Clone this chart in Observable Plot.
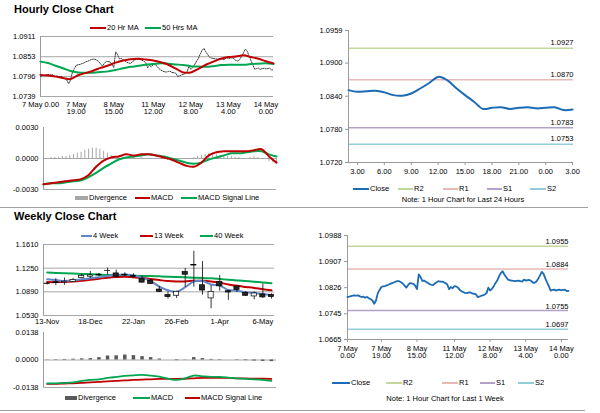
<!DOCTYPE html>
<html><head><meta charset="utf-8">
<script src="https://cdn.jsdelivr.net/npm/d3@7"></script>
<script src="https://cdn.jsdelivr.net/npm/@observablehq/plot@0.6"></script>
<style>
body{margin:0;background:#fff;}
#root{position:relative;width:600px;height:413px;font-family:"Liberation Sans",Arial,sans-serif;color:#000;overflow:hidden;background:#fff}
.title{position:absolute;font-weight:bold;font-size:11px;white-space:nowrap}
.note{position:absolute;font-size:7.5px;white-space:nowrap;transform:translateX(-50%)}
</style></head><body><div id="root"></div><script>
// ---------------- DATA ----------------
// Hourly close, 7 May 0.00 (index 0) to 14 May 4.00 (index 124)
const hourlyClose = [
 1.0797,1.0798,1.0800,1.0801,1.0802,1.0801,1.0802,1.0799,1.0797,1.0798,
 1.0795,1.0797,1.0793,1.0790,1.0786,1.0776,1.0786,1.0809,1.0819,1.0828,
 1.0830,1.0831,1.0833,1.0835,1.0838,1.0840,1.0842,1.0845,1.0846,1.0846,
 1.0843,1.0839,1.0832,1.0826,1.0834,1.0840,1.0839,1.0838,1.0832,1.0822,
 1.0867,1.0859,1.0847,1.0848,1.0844,1.0841,1.0837,1.0835,1.0834,1.0839,
 1.0843,1.0846,1.0845,1.0845,1.0843,1.0840,1.0836,1.0821,1.0828,1.0824,
 1.0831,1.0830,1.0826,1.0819,1.0815,1.0812,1.0810,1.0809,1.0811,1.0811,
 1.0808,1.0807,1.0806,1.0797,1.0798,1.0801,1.0802,1.0805,1.0809,1.0826,
 1.0817,1.0822,1.0830,1.0840,1.0848,1.0861,1.0871,1.0877,1.0867,1.0859,
 1.0851,1.0849,1.0848,1.0847,1.0846,1.0847,1.0848,1.0846,1.0845,1.0851,
 1.0848,1.0849,1.0850,1.0847,1.0842,1.0841,1.0845,1.0854,1.0864,1.0875,
 1.0869,1.0855,1.0842,1.0830,1.0817,1.0819,1.0820,1.0817,1.0819,1.0820,
 1.0818,1.0819,1.0820,1.0815,1.0816];
const last24Start = 99;           // index in hourlyClose where the 24-hour chart starts (hour -1)
const maHours = [0,4,8,12,16,20,24,28,32,36,40,44,48,52,56,60,64,68,72,76,80,84,88,92,96,100,104,108,112,116,120,124];
const hMa20 = [1.0801,1.0799,1.0796,1.0792,1.0789,1.0800,1.0806,1.0813,1.0821,1.0828,1.0836,1.0842,1.0846,1.0847,1.0845,1.0842,1.0837,1.0830,1.0819,1.0808,1.0808,1.0818,1.0830,1.0839,1.0847,1.0852,1.0854,1.0857,1.0852,1.0847,1.0840,1.0834];
const hMa50 = [1.0839,1.0835,1.0827,1.0820,1.0812,1.0808,1.0807,1.0807,1.0809,1.0811,1.0815,1.0820,1.0824,1.0827,1.0830,1.0832,1.0834,1.0833,1.0831,1.0829,1.0826,1.0825,1.0824,1.0826,1.0829,1.0830,1.0830,1.0830,1.0832,1.0833,1.0834,1.0832];
const hMacd = [-0.0025,-0.0024,-0.0023,-0.0022,-0.0021,-0.0020,-0.0016,-0.0008,-0.0002,0.0001,0.0002,0.0004,0.0003,0.0004,0.0004,0.0003,0.0001,-0.0001,-0.0004,-0.0007,-0.0008,-0.0004,0.0003,0.0006,0.0007,0.0007,0.0007,0.0007,0.0008,0.0009,0.0002,-0.0004];
const hSignal = [-0.0025,-0.0024,-0.0024,-0.0023,-0.0022,-0.0021,-0.0018,-0.0014,-0.0009,-0.0005,-0.0001,0.0001,0.0002,0.0003,0.0004,0.0003,0.0002,0.0000,-0.0002,-0.0004,-0.0005,-0.0004,-0.0001,0.0001,0.0003,0.0005,0.0005,0.0006,0.0007,0.0007,0.0004,0.0002];
const divHours = [0,2,4,6,8,10,12,14,16,18,20,22,24,26,28,30,32,34,36,38,40,42,44,46,48,50,52,54,56,58,60,62,64,66,68,70,72,74,76,78,80,82,84,86,88,90,92,94,96,98,100,102,104,106,108,110,112,114,116,118,120,122,124];
const hDiv = [0.0000,0.0000,0.0001,0.0001,0.0001,0.0002,0.0002,0.0003,0.0004,0.0005,0.0006,0.0008,0.0009,0.0010,0.0010,0.0009,0.0007,0.0005,0.0003,0.0002,0.0002,0.0001,0.0001,0.0001,0.0001,0.0000,0.0001,0.0000,0.0000,0.0000,-0.0001,-0.0001,-0.0001,-0.0002,-0.0002,-0.0002,-0.0001,-0.0001,-0.0001,0.0000,0.0001,0.0002,0.0003,0.0004,0.0005,0.0005,0.0004,0.0003,0.0003,0.0002,0.0002,0.0001,0.0001,0.0000,0.0000,0.0001,0.0002,0.0001,0.0000,-0.0001,-0.0003,-0.0004,-0.0005];
const hPriceTicks = [1.0911,1.0853,1.0796,1.0739];
const hMacdTicks = [0.0030,0.0000,-0.0030];
const hourTicks = [0,19,39,60,80,100,120];
const hourLabelsA = ["7 May 0.00","7 May\n19.00","8 May\n15.00","11 May\n12.00","12 May\n8.00","13 May\n4.00","14 May\n0.00"];
const hourLabelsF = ["7 May\n0.00","7 May\n19.00","8 May\n15.00","11 May\n12.00","12 May\n8.00","13 May\n4.00","14 May\n0.00"];
const dayTicks = [0,3,6,9,12,15,18,21,24];
const dayLabels = ["3.00","6.00","9.00","12.00","15.00","18.00","21.00","0.00","3.00"];
const dayPriceTicks = [1.0959,1.0900,1.0840,1.0780,1.0720];
const weekPriceTicksR = [1.0988,1.0907,1.0826,1.0745,1.0665];
const levelNames = ["R2","R1","S1","S2"];
const levelsDay = [1.0927,1.0870,1.0783,1.0753];
const levelsWeek = [1.0955,1.0884,1.0755,1.0697];

// Weekly candles 13-Nov .. 13-May
const wOpen  = [1.1015,1.1035,1.1030,1.1040,1.1100,1.1120,1.1140,1.1205,1.1170,1.1150,1.1130,1.1090,1.1060,1.0925,1.0840,1.0830,1.1190,1.1300,1.0990,1.0790,1.1040,1.0900,1.0970,1.0870,1.0820,1.0850,1.0840];
const wHigh  = [1.1035,1.1090,1.1100,1.1095,1.1160,1.1200,1.1170,1.1250,1.1220,1.1180,1.1165,1.1130,1.1080,1.0970,1.0890,1.0900,1.1245,1.1506,1.1350,1.0986,1.1140,1.0905,1.0990,1.0890,1.0890,1.1010,1.0860];
const wLow   = [1.0995,1.0986,1.0990,1.1040,1.1090,1.1090,1.1120,1.1140,1.1100,1.1125,1.1090,1.1020,1.1000,1.0880,1.0780,1.0790,1.0960,1.0960,1.0840,1.0632,1.0900,1.0760,1.0880,1.0820,1.0770,1.0790,1.0780];
const wClose = [1.1010,1.1022,1.1045,1.1070,1.1130,1.1140,1.1150,1.1210,1.1120,1.1140,1.1115,1.1030,1.1010,1.0890,1.0810,1.0890,1.1150,1.1290,1.0910,1.0890,1.0975,1.0880,1.0920,1.0830,1.0865,1.0805,1.0810];
const wMa4  = [1.1080,1.1069,1.1054,1.1064,1.1080,1.1095,1.1111,1.1132,1.1147,1.1152,1.1137,1.1106,1.1054,1.0970,1.0913,1.0892,1.0960,1.1048,1.1054,1.1002,1.0986,1.0918,1.0908,1.0882,1.0872,1.0856,1.0840];
const wMa13 = [1.1038,1.1038,1.1043,1.1048,1.1059,1.1074,1.1090,1.1106,1.1116,1.1121,1.1111,1.1100,1.1085,1.1069,1.1054,1.1048,1.1048,1.1059,1.1059,1.1048,1.1028,1.1002,1.0981,1.0965,1.0950,1.0929,1.0913];
const wMa40 = [1.1184,1.1178,1.1173,1.1168,1.1163,1.1158,1.1152,1.1147,1.1142,1.1142,1.1137,1.1132,1.1132,1.1126,1.1121,1.1116,1.1111,1.1106,1.1100,1.1095,1.1085,1.1074,1.1064,1.1054,1.1043,1.1033,1.1022];
const wMacd   = [-0.0117,-0.0117,-0.0115,-0.0112,-0.0105,-0.0100,-0.0097,-0.0090,-0.0085,-0.0080,-0.0077,-0.0075,-0.0078,-0.0084,-0.0094,-0.0100,-0.0092,-0.0078,-0.0082,-0.0085,-0.0085,-0.0088,-0.0092,-0.0095,-0.0097,-0.0100,-0.0105];
const wSignal = [-0.0120,-0.0120,-0.0118,-0.0117,-0.0115,-0.0112,-0.0110,-0.0107,-0.0105,-0.0102,-0.0100,-0.0098,-0.0097,-0.0095,-0.0095,-0.0095,-0.0094,-0.0092,-0.0090,-0.0090,-0.0090,-0.0090,-0.0092,-0.0092,-0.0094,-0.0094,-0.0095];
const wDiv    = [0.0001,0.0002,0.0003,0.0004,0.0006,0.0007,0.0012,0.0020,0.0021,0.0025,0.0022,0.0017,0.0012,0.0005,0.0000,-0.0003,-0.0001,0.0012,0.0007,0.0003,0.0002,0.0000,-0.0002,-0.0003,-0.0005,-0.0007,-0.0008];
const weekTicks = [0,5,10,15,20,25];
const weekLabels = ["13-Nov","18-Dec","22-Jan","26-Feb","1-Apr","6-May"];
const wPriceTicks = [1.1610,1.1250,1.0890,1.0530];
const wMacdTicks = [0.0138,0.0000,-0.0138];

// ---------------- STYLE ----------------
const RED = "#c00000", GREEN = "#00a651", BLUE = "#1b6cb5", BLUE4 = "#5f87c9";
const GRID = "#a6a6a6", AXIS = "#9a9a9a";
const LVL = {R2:"#c3d69b", R1:"#e6b9b8", S1:"#b3a2c7", S2:"#92cddc"};
const st = {fontFamily:"'Liberation Sans', Arial, sans-serif", fontSize:"7.5px", background:"none", overflow:"visible", color:"#000"};
const root = document.getElementById("root");
const fmt4 = d => d.toFixed(4);

function place(node, left, top){ node.style.position="absolute"; node.style.left=left+"px"; node.style.top=top+"px"; root.appendChild(node); }
function text(cls, str, left, top){ const d=document.createElement("div"); d.className=cls; d.textContent=str; d.style.left=left+"px"; d.style.top=top+"px"; root.appendChild(d); }
function hline(y, x1, x2){ const d=document.createElement("div"); d.style.cssText=`position:absolute;left:${x1}px;top:${y}px;width:${x2-x1}px;height:1px;background:#a0a0a0`; root.appendChild(d); }
function legend(items, y){
  for (const it of items){
    const t = it.t || 2.2;
    const sw = document.createElement("div");
    sw.style.cssText = `position:absolute;left:${it.x}px;top:${y - t/2}px;width:${it.w}px;height:${t}px;background:${it.c}`;
    root.appendChild(sw);
    const tx = document.createElement("div");
    tx.textContent = it.label;
    tx.style.cssText = `position:absolute;left:${it.x+it.w+1}px;top:${y-5}px;font-size:7.5px;line-height:10px;white-space:nowrap`;
    root.appendChild(tx);
  }
}

// ---------------- HOURLY (top-left) ----------------
text("title","Hourly Close Chart",14,3);
legend([{x:90,w:16,c:RED,label:"20 Hr MA"},{x:145,w:16,c:GREEN,label:"50 Hrs MA"}],28);

place(Plot.plot({
  width:290, height:95, marginLeft:40, marginRight:17, marginTop:8, marginBottom:27, style:st,
  x:{domain:[0,124]}, y:{domain:[1.0739,1.0911]},
  marks:[
    Plot.ruleY(hPriceTicks,{stroke:GRID}),
    Plot.ruleX([0],{stroke:AXIS}),
    Plot.line(hourlyClose,{x:(d,i)=>i, y:d=>d, stroke:"#3a3a3a", strokeWidth:1, strokeDasharray:"1.2,1.2"}),
    Plot.line(hMa50,{x:(d,i)=>maHours[i], y:d=>d, stroke:GREEN, strokeWidth:2, curve:"catmull-rom"}),
    Plot.line(hMa20,{x:(d,i)=>maHours[i], y:d=>d, stroke:RED, strokeWidth:2, curve:"catmull-rom"}),
    Plot.axisY(hPriceTicks,{tickSize:0, tickPadding:5, tickFormat:fmt4}),
    Plot.axisX(hourTicks,{tickSize:0, tickPadding:5, tickFormat:d=>hourLabelsA[hourTicks.indexOf(d)]})
  ]
}),0,28);

place(Plot.plot({
  width:290, height:74, marginLeft:43, marginRight:14, marginTop:7, marginBottom:5, style:st,
  x:{domain:[0,124], axis:null}, y:{domain:[-0.003,0.003]},
  marks:[
    Plot.ruleY([0,-0.003],{stroke:GRID}),
    Plot.ruleX([0],{stroke:AXIS}),
    Plot.ruleX(hDiv,{x:(d,i)=>divHours[i], y1:0, y2:d=>d, stroke:"#a6a6a6", strokeWidth:1}),
    Plot.line(hSignal,{x:(d,i)=>maHours[i], y:d=>d, stroke:GREEN, strokeWidth:2, curve:"catmull-rom"}),
    Plot.line(hMacd,{x:(d,i)=>maHours[i], y:d=>d, stroke:RED, strokeWidth:2, curve:"catmull-rom"}),
    Plot.axisY(hMacdTicks,{tickSize:0, tickPadding:5, tickFormat:fmt4})
  ]
}),0,120);
legend([{x:75,w:13,c:"#a6a6a6",t:4,label:"Divergence"},{x:135,w:15,c:RED,label:"MACD"},{x:181,w:16,c:GREEN,label:"MACD Signal Line"}],198);

hline(207,0,588);

// ---------------- 24 HOURS (top-right) ----------------
const last24 = hourlyClose.slice(last24Start);
place(Plot.plot({
  width:300, height:165, marginLeft:48, marginRight:27, marginTop:10, marginBottom:23, style:st,
  x:{domain:[-1,24.1]}, y:{domain:[1.0720,1.0959]},
  marks:[
    ...levelNames.map((n,i)=>Plot.ruleY([levelsDay[i]],{stroke:LVL[n], strokeWidth:1.5})),
    Plot.ruleX([-1],{stroke:AXIS}),
    Plot.ruleY([1.0720],{stroke:AXIS}),
    Plot.line(last24,{x:(d,i)=>i-1, y:d=>d, stroke:BLUE, strokeWidth:2, curve:"catmull-rom"}),
    Plot.text(levelsDay,{x:24.1, y:d=>d, text:fmt4, textAnchor:"end", lineAnchor:"bottom", dy:-3, fontSize:7.5}),
    Plot.axisY(dayPriceTicks,{tickSize:3, tickPadding:3, stroke:AXIS, tickFormat:fmt4}),
    Plot.axisX(dayTicks,{tickSize:3, tickPadding:3, stroke:AXIS, tickFormat:d=>dayLabels[dayTicks.indexOf(d)]})
  ]
}),300,20);
legend([{x:353,w:16,c:BLUE,label:"Close"},{x:398,w:15,c:LVL.R2,label:"R2"},{x:443,w:15,c:LVL.R1,label:"R1"},{x:487,w:15,c:LVL.S1,label:"S1"},{x:530,w:16,c:LVL.S2,label:"S2"}],189);
text("note","Note: 1 Hour Chart for Last 24 Hours",463,195);

// ---------------- WEEKLY (bottom-left) ----------------
text("title","Weekly Close Chart",14,210);
legend([{x:81,w:11,c:BLUE4,label:"4 Week"},{x:140,w:13,c:RED,label:"13 Week"},{x:200,w:13,c:GREEN,label:"40 Week"}],236);

const up = (d,i)=>wClose[i] >= wOpen[i];
place(Plot.plot({
  width:290, height:92, marginLeft:43, marginRight:16, marginTop:6, marginBottom:15, style:st,
  x:{domain:[-0.43,26.35]}, y:{domain:[1.0530,1.1610]},
  marks:[
    Plot.ruleY(wPriceTicks,{stroke:GRID}),
    Plot.ruleX([-0.43],{stroke:AXIS}),
    Plot.line(wMa40,{x:(d,i)=>i, y:d=>d, stroke:GREEN, strokeWidth:2, curve:"catmull-rom"}),
    Plot.line(wMa13,{x:(d,i)=>i, y:d=>d, stroke:RED, strokeWidth:2, curve:"catmull-rom"}),
    Plot.line(wMa4,{x:(d,i)=>i, y:d=>d, stroke:BLUE4, strokeWidth:2, curve:"catmull-rom"}),
    Plot.ruleX(wHigh,{x:(d,i)=>i, y1:(d,i)=>wLow[i], y2:d=>d, stroke:"#000", strokeWidth:0.8}),
    Plot.rect(wOpen,{filter:up, x1:(d,i)=>i-0.3, x2:(d,i)=>i+0.3, y1:d=>d, y2:(d,i)=>wClose[i], fill:"#fff", stroke:"#000", strokeWidth:0.7}),
    Plot.rect(wOpen,{filter:(d,i)=>!up(d,i), x1:(d,i)=>i-0.3, x2:(d,i)=>i+0.3, y1:d=>d, y2:(d,i)=>wClose[i], fill:"#262626", stroke:"#000", strokeWidth:0.7}),
    Plot.axisY(wPriceTicks,{tickSize:0, tickPadding:5, tickFormat:fmt4}),
    Plot.axisX(weekTicks,{tickSize:0, tickPadding:3, tickFormat:d=>weekLabels[weekTicks.indexOf(d)]})
  ]
}),0,238);

place(Plot.plot({
  width:290, height:66, marginLeft:43, marginRight:14, marginTop:6, marginBottom:5, style:st,
  x:{domain:[-0.43,26.6], axis:null}, y:{domain:[-0.0138,0.0138]},
  marks:[
    Plot.ruleY([0,-0.0138],{stroke:GRID}),
    Plot.ruleX([-0.43],{stroke:AXIS}),
    Plot.ruleX(wDiv,{x:(d,i)=>i, y1:0, y2:d=>d, stroke:"#595959", strokeWidth:3.5}),
    Plot.line(wSignal,{x:(d,i)=>i, y:d=>d, stroke:RED, strokeWidth:1.8, curve:"catmull-rom"}),
    Plot.line(wMacd,{x:(d,i)=>i, y:d=>d, stroke:GREEN, strokeWidth:1.8, curve:"catmull-rom"}),
    Plot.axisY(wMacdTicks,{tickSize:0, tickPadding:5, tickFormat:fmt4})
  ]
}),0,326);
legend([{x:65,w:12,c:"#595959",t:4,label:"Divergence"},{x:133,w:17,c:GREEN,label:"MACD"},{x:185,w:15,c:RED,label:"MACD Signal Line"}],398);

hline(410,0,585);

// ---------------- 1 WEEK (bottom-right) ----------------
place(Plot.plot({
  width:300, height:140, marginLeft:47, marginRight:32, marginTop:7, marginBottom:29, style:st,
  x:{domain:[0,124]}, y:{domain:[1.0665,1.0988]},
  marks:[
    ...levelNames.map((n,i)=>Plot.ruleY([levelsWeek[i]],{stroke:LVL[n], strokeWidth:1.5})),
    Plot.ruleX([0],{stroke:AXIS}),
    Plot.ruleY([1.0665],{stroke:AXIS}),
    Plot.line(hourlyClose,{x:(d,i)=>i, y:d=>d, stroke:BLUE, strokeWidth:1.8}),
    Plot.text(levelsWeek,{x:124, y:d=>d, text:fmt4, textAnchor:"end", lineAnchor:"bottom", dy:-2, fontSize:7.5}),
    Plot.axisY(weekPriceTicksR,{tickSize:3, tickPadding:3, stroke:AXIS, tickFormat:fmt4}),
    Plot.axisX(hourTicks,{tickSize:3, tickPadding:3, stroke:AXIS, tickFormat:d=>hourLabelsF[hourTicks.indexOf(d)]})
  ]
}),300,228);
legend([{x:332,w:18,c:BLUE,label:"Close"},{x:386,w:16,c:LVL.R2,label:"R2"},{x:442,w:16,c:LVL.R1,label:"R1"},{x:480,w:15,c:LVL.S1,label:"S1"},{x:518,w:16,c:LVL.S2,label:"S2"}],383);
text("note","Note: 1 Hour Chart for Last 1 Week",445,394);
</script></body></html>
